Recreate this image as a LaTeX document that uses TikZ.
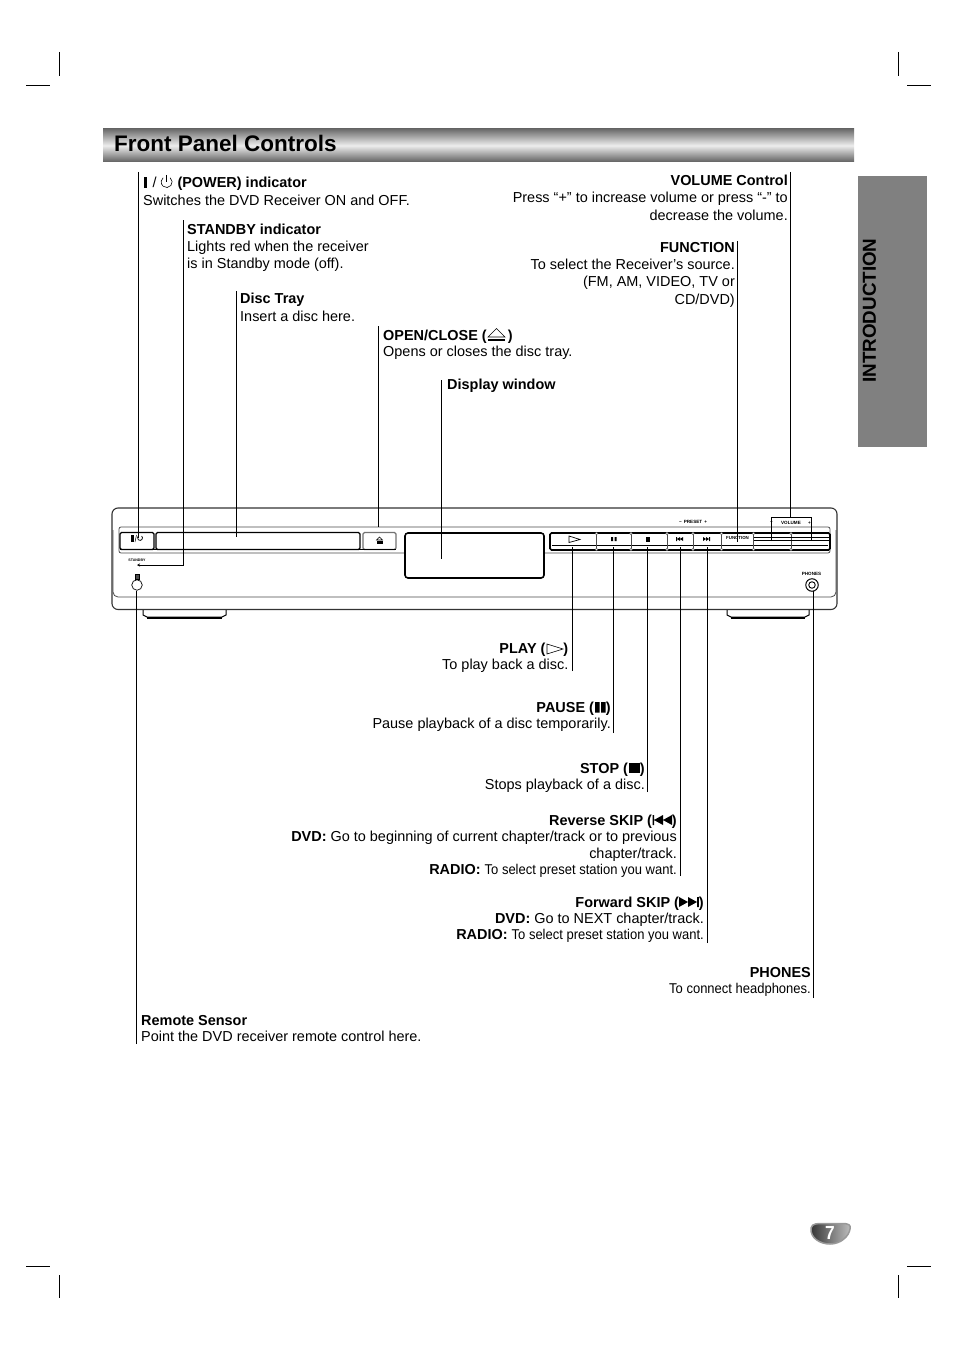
\documentclass[tikz,border=0pt]{standalone}
\usepackage{fontspec}
\setmainfont{Liberation Sans}
\newfontfamily\condfont[FakeStretch=0.915]{Liberation Sans}
\usetikzlibrary{arrows.meta}
\tikzset{
 lead/.style={line width=0.9pt,black},
 txtL/.style={anchor=north west,inner sep=0pt,align=left,font=\fontsize{14.45}{16.4}\selectfont,execute at begin node=\rule{0pt}{12pt}},
 txtR/.style={anchor=north east,inner sep=0pt,align=right,font=\fontsize{14.45}{16.4}\selectfont,execute at begin node=\rule{0pt}{12pt}},
 crop/.style={line width=0.7pt,black},
 body/.style={line width=1.1pt,black!80},
 bigbtn/.style={line width=1.1pt,draw=black,rounded corners=1.5pt,fill=white},
 tiny/.style={inner sep=0pt,font=\bfseries\fontsize{4.6}{5}\selectfont},
}
\newcommand{\smalltxt}[1]{{\condfont\fontsize{14.2}{16.4}\selectfont #1}}
\begin{document}
\begin{tikzpicture}[x=1pt,y=-1pt]
\useasboundingbox (0,0) rectangle (954,1351);
\fill[white] (0,0) rectangle (954,1351);
% crop marks
\foreach \a/\b/\c/\d in {26/85/50/85,907/85/931/85,59/52/59/76,898/52/898/76,26/1266/50/1266,907/1266/931/1266,59/1275/59/1298,898/1275/898/1298}
  \draw[crop] (\a,\b) -- (\c,\d);
% title band
\shade[top color=black!58,bottom color=black!62,middle color=black!7] (103,129) rectangle (854,162);
\node[anchor=base west,inner sep=0pt,font=\bfseries\fontsize{22.5}{26}\selectfont] (title) at (114,151.5) {Front Panel Controls};
% side tab
\fill[black!50] (858,176) rectangle (927,447);
\node[rotate=90,anchor=center,inner sep=0pt,font=\bfseries\fontsize{18.8}{20}\selectfont] (intro) at (869.5,310.5) {INTRODUCTION};
% panel
\draw[body,rounded corners=6pt] (112,508) rectangle (837,609.5);
\draw[line width=.8pt,black!70,rounded corners=5pt] (113,530) -- (113,597) -- (836,597) -- (836,530);
\draw[line width=.8pt,black!70,rounded corners=2pt] (119,553) -- (119,527) -- (830,527) -- (830,553) -- cycle;
\draw[line width=1pt,black] (143,610) -- (143,615) -- (147,617) -- (222,617) -- (226,615) -- (226,610);
\fill[black] (147,616.5) rectangle (222,618.5);
\draw[line width=1pt,black] (727,610) -- (727,615) -- (731,617) -- (805,617) -- (809,615) -- (809,610);
\fill[black] (731,616.5) rectangle (805,618.5);
% buttons
\node[bigbtn,minimum width=34pt,minimum height=17pt,inner sep=0pt] (bpower) at (137,541) {};
\node[bigbtn,minimum width=204pt,minimum height=17pt,inner sep=0pt] (btray) at (258,541) {};
\node[bigbtn,draw=black!55,minimum width=33pt,minimum height=17pt,inner sep=0pt] (bopen) at (379.5,541) {};
\draw[line width=1.2pt] (120,549.5) -- (396,549.5);
\node[draw,fill=white,line width=1.6pt,rounded corners=3pt,minimum width=139pt,minimum height=45pt,inner sep=0pt] (display) at (474.5,555.5) {};
\draw[line width=1.6pt,black,rounded corners=1.5pt,fill=white] (550,533) rectangle (830,550);
\draw[line width=.7pt,black] (552,545.5) -- (828,545.5);
\foreach \x in {596.5,631,667,693,721.5,753.5,791} {
  \draw[line width=.9pt,black!70] (\x,533) -- (\x,550);
  \filldraw[fill=white,draw=black!60,line width=.5pt] (\x,533.5) circle[radius=1.2pt] (\x,549.5) circle[radius=1.2pt];
}
\draw[line width=.6pt,black] (754,537) -- (829,537) (754,540) -- (829,540);
% icons on panel
\fill[black] (131,535) rectangle (134,541.5);
\draw[line width=.5pt] (135,542) -- (136.5,535);
\draw[line width=.7pt] (141.6,536) arc[start angle=50,end angle=-230,radius=2.5pt];
\draw[line width=.6pt,fill=white] (376.5,540) -- (379.5,537) -- (382.5,540) -- cycle;
\fill[black] (376.5,541) rectangle (382.5,543.5);
\draw[line width=.7pt,fill=white] (569,536) -- (580,539.5) -- (569,542.5) -- cycle;
\fill[black] (611,537) rectangle (613,541) (614.5,537) rectangle (616.5,541);
\fill[black] (646,536.5) rectangle (650,541.5);
\fill[black] (676,537) rectangle (677,541) (677,539) -- (680,537) -- (680,541) -- cycle (680,539) -- (683,537) -- (683,541) -- cycle;
\fill[black] (703,537) -- (706,539) -- (703,541) -- cycle (706,537) -- (709,539) -- (706,541) -- cycle (709,537) rectangle (710,541);
% panel labels
\node[tiny] (lpreset) at (693,522) {−\, PRESET\, +};
\node[tiny] (lvolume) at (791,523) {VOLUME};
\node[tiny] at (771.5,523) {−};
\node[tiny] at (809.5,523) {+};
\node[tiny,font=\bfseries\fontsize{4.4}{5}\selectfont] (lfunc) at (737.5,538) {FUNCTION};
\node[tiny,font=\bfseries\fontsize{3.6}{5}\selectfont] (lstandby) at (137,560) {STANDBY};
\node[tiny] (lphones) at (811.5,574) {PHONES};
% phones, sensor
\node[draw,circle,line width=1pt,minimum size=12.5pt,inner sep=0pt] (phones) at (812,585) {};
\node[draw,circle,line width=.9pt,minimum size=6.5pt,inner sep=0pt] at (812,585) {};
\node[draw,circle,line width=.7pt,minimum size=10.5pt,inner sep=0pt] (sensor) at (137,585) {};
\filldraw[fill=black!70,draw=black,line width=.5pt] (135,574.5) rectangle (139,579);
% connector end coordinates
\coordinate (a1) at (138,172); \coordinate (e1) at (138,538);
\coordinate (a2) at (183,220); \coordinate (c2) at (183,565); \coordinate (e2) at (137,565);
\coordinate (a3) at (236,291); \coordinate (e3) at (236,537);
\coordinate (a4) at (378,326); \coordinate (e4) at (378,527);
\coordinate (a5) at (441,380); \coordinate (e5) at (441,559);
\coordinate (a6) at (737,241); \coordinate (e6) at (737,542);
\coordinate (a7) at (790,172); \coordinate (c7) at (790,517);
\coordinate (v1) at (771,517); \coordinate (v2) at (811.5,517);
\coordinate (v1e) at (771,541); \coordinate (v2e) at (811.5,541);
\coordinate (a8) at (572.5,671); \coordinate (e8) at (572.5,547);
\coordinate (a9) at (613,733); \coordinate (e9) at (613,547);
\coordinate (a10) at (647,792); \coordinate (e10) at (647,547);
\coordinate (a11) at (680,876); \coordinate (e11) at (680,547);
\coordinate (a12) at (707.5,943); \coordinate (e12) at (707.5,547);
\coordinate (a13) at (813,998); \coordinate (e13) at (813,591);
\coordinate (a14) at (136,1044); \coordinate (e14) at (136,590.5);
\draw[lead] (a1) -- (e1);
\draw[lead,-{Stealth[length=3pt,width=3pt]}] (a2) -- (c2) -- (e2);
\draw[lead] (a3) -- (e3);
\draw[lead] (a4) -- (e4);
\draw[lead] (a5) -- (e5);
\draw[lead] (a6) -- (e6);
\draw[lead] (a7) -- (c7);
\draw[lead] (v1e) -- (v1) -- (v2) -- (v2e);
\draw[lead] (a8) -- (e8);
\draw[lead] (a9) -- (e9);
\draw[lead] (a10) -- (e10);
\draw[lead] (a11) -- (e11);
\draw[lead] (a12) -- (e12);
\draw[lead] (a13) -- (e13);
\draw[lead] (a14) -- (e14);
% texts
\node[txtL] (t1) at (143,177) {\hspace{.5pt}\rule{2.8pt}{10.5pt}\hspace{6pt}/\hspace{21pt}\textbf{(POWER) indicator}\\[1.6pt]Switches the DVD Receiver ON and OFF.};
\draw[line width=.6pt] (170.2,177.8) arc[start angle=50,end angle=-230,radius=5.5pt];
\draw[line width=.6pt] (166.7,175) -- (166.7,182);
\node[txtL] (t2) at (187,224) {\textbf{STANDBY indicator}\\[.6pt]Lights red when the receiver\\[.6pt]is in Standby mode (off).};
\node[txtL] (t3) at (240,293) {\textbf{Disc Tray}\\[1.6pt]Insert a disc here.};
\node[txtL] (t4) at (383,330) {\textbf{OPEN/CLOSE (\hspace{21pt})}\\[-.7pt]Opens or closes the disc tray.};
\draw[line width=.6pt,fill=white] (488,337) -- (496.5,328.5) -- (505,337) -- cycle;
\fill[black] (488,339) rectangle (505,341);
\node[txtL] (t5) at (447,377) {\textbf{Display window}};
\node[txtR] (t6) at (788,175) {\textbf{VOLUME Control}\\[.6pt]Press “+” to increase volume or press “-” to\\[1pt]decrease the volume.};
\node[txtR] (t7) at (735,242) {\textbf{FUNCTION}\\[.6pt]To select the Receiver’s source.\\[1pt](FM, AM, VIDEO, TV or\\[1pt]CD/DVD)};
\node[txtR] (t8) at (568.5,643) {\textbf{PLAY (\hspace{18pt})}\\[-.7pt]To play back a disc.};
\draw[line width=.6pt,fill=white] (547,644) -- (563,649) -- (547,654) -- cycle;
\node[txtR] (t9) at (611,702) {\textbf{PAUSE (\hspace{12pt})}\\[-.7pt]Pause playback of a disc temporarily.};
\fill[black] (595,702) rectangle (599.5,712.5) (601,702) rectangle (605.5,712.5);
\node[txtR] (t10) at (645,763) {\textbf{STOP (\hspace{12pt})}\\[-.7pt]Stops playback of a disc.};
\fill[black] (629,763) rectangle (640,773);
\node[txtR] (t11) at (677,815) {\textbf{Reverse SKIP (\hspace{20pt})}\\[-.7pt]\textbf{DVD:} Go to beginning of current chapter/track or to previous\\[.4pt]chapter/track.\\\textbf{RADIO:} \smalltxt{To select preset station you want.}};
\fill[black] (652.5,815) rectangle (654,825) (654,820) -- (663,815) -- (663,825) -- cycle (663,820) -- (672,815) -- (672,825) -- cycle;
\node[txtR] (t12) at (704,897) {\textbf{Forward SKIP (\hspace{20pt})}\\[-.7pt]\textbf{DVD:} Go to NEXT chapter/track.\\[-.3pt]\textbf{RADIO:} \smalltxt{To select preset station you want.}};
\fill[black] (679,897) -- (688,902) -- (679,907) -- cycle (688,897) -- (697,902) -- (688,907) -- cycle (697,897) rectangle (698.8,907);
\node[txtR] (t13) at (811,967) {\textbf{PHONES}\\\smalltxt{To connect headphones.}};
\node[txtL] (t14) at (141,1015) {\textbf{Remote Sensor}\\Point the DVD receiver remote control here.};
% page badge
\shade[left color=black!80,right color=black!25,draw=black!40,line width=1.5pt] (811,1228) .. controls (812,1223) and (818,1223.5) .. (825,1223.5) -- (842,1223.5) .. controls (849,1223.5) and (851,1225) .. (850,1229) .. controls (849,1236) and (841,1244) .. (830,1244) .. controls (820,1244) and (810,1238) .. (811,1228) -- cycle;
\node[inner sep=0pt,white,font=\condfont\bfseries\fontsize{19}{20}\selectfont] (page) at (830,1233) {7};
\end{tikzpicture}
\end{document}
